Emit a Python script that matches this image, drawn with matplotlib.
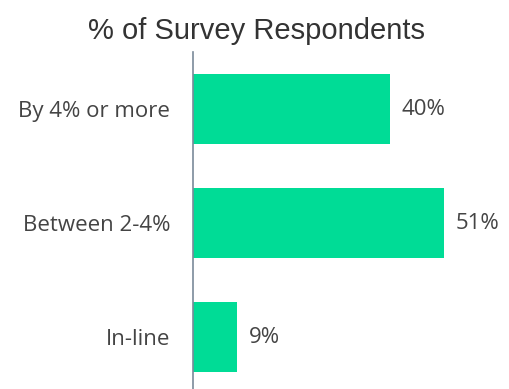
import matplotlib.pyplot as plt

categories = ['By 4% or more', 'Between 2-4%', 'In-line']
values = [40, 51, 9]

fig = plt.figure(figsize=(5.09, 3.89), dpi=100)
ax = fig.add_axes([193 / 509, 0, 295 / 509, 337 / 389])

ax.barh(range(len(values)), values, height=0.61, color='#00DC96')
ax.set_xlim(0, 60)
ax.set_ylim(2.456, -0.5)

for i, v in enumerate(values):
    ax.text(v + 2.4, i, f'{v}%', va='center', ha='left',
            fontsize=16, family='Open Sans', color='#444444')

ax.set_yticks(range(len(categories)))
ax.set_yticklabels(categories, family='Open Sans', fontsize=16, color='#444444')
ax.tick_params(axis='y', length=0, pad=16.5)
ax.set_xticks([])

for s in ['top', 'right', 'bottom']:
    ax.spines[s].set_visible(False)
ax.spines['left'].set_color('#7A8A9A')
ax.spines['left'].set_linewidth(1.2)

fig.text(0.503, 1 - 31 / 389, '% of Survey Respondents', ha='center', va='center',
         fontsize=21, family='Liberation Sans', color='#333333')

fig.savefig('out.png', dpi=100)
